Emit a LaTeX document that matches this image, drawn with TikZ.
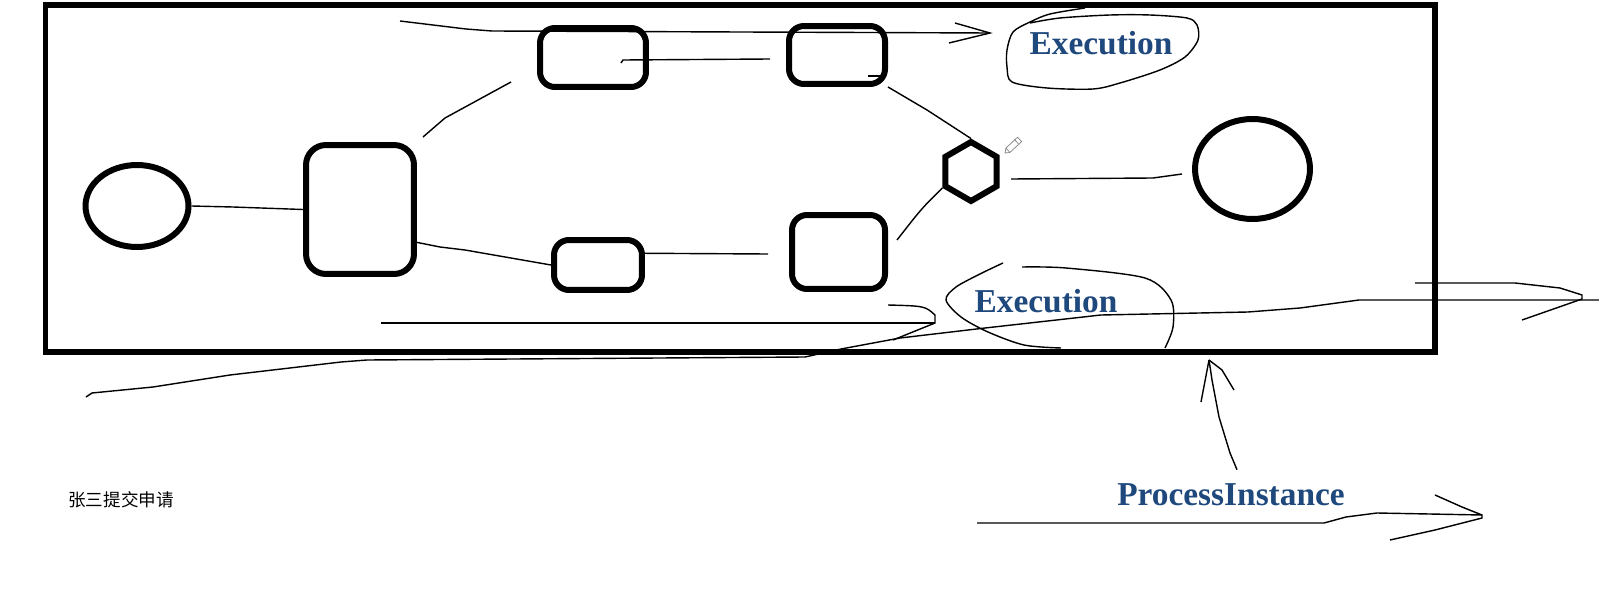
\documentclass[tikz,border=0pt]{standalone}
\usepackage{fontspec}
\setmainfont{Liberation Serif}
\newfontfamily\cjk{Noto Sans CJK SC}
\usepackage{tikz}
\usetikzlibrary{shapes.geometric}

\definecolor{inkblue}{RGB}{31,73,125}

\tikzset{
  frame/.style={line width=0.12cm},
  event/.style={draw,ellipse,line width=0.12cm,inner sep=0pt},
  task/.style={draw,rounded corners=0.3cm,line width=0.12cm,inner sep=0pt},
  gate/.style={draw,regular polygon,regular polygon sides=6,regular polygon rotate=30,
    line width=0.12cm,inner sep=0pt,minimum size=1.18cm},
  stroke/.style={line width=0.8pt},
  note/.style={font=\fontsize{19}{19}\selectfont\bfseries,text=inkblue}
}

\begin{document}
\begin{tikzpicture}[x=0.02cm,y=-0.02cm]
      \useasboundingbox (0,0) rectangle (1599,598);
      \draw[frame] (45.5,5) rectangle (1435,351.5);

      % process nodes
      \node[event,minimum width=2.06cm,minimum height=1.64cm] (start) at (137,206) {};
      \node[task,minimum width=2.16cm,minimum height=2.58cm,rounded corners=0.4cm] (apply) at (360,209.5) {};
      \node[task,minimum width=2.12cm,minimum height=1.18cm] (topA) at (593,57.5) {};
      \node[task,minimum width=1.92cm,minimum height=1.16cm] (topB) at (837,55) {};
      \node[task,minimum width=1.76cm,minimum height=1.0cm] (botA) at (598,265) {};
      \node[task,minimum width=1.86cm,minimum height=1.48cm] (botB) at (838.5,252) {};
      \node[gate] (join) at (971,171.5) {};
      \node[event,minimum width=2.3cm,minimum height=2.0cm] (end) at (1252.5,169) {};

      % pencil cursor
      \draw[gray,line width=0.4pt] (1005,153) -- (1009.9,152.5) -- (1021.6,141.6) -- (1017.6,137.2) -- (1005.9,148.1) -- cycle;
      \draw[gray,line width=0.4pt] (1018.4,143.8) -- (1014.4,139.4);
      \draw[gray,line width=0.4pt] (1009.9,152.5) -- (1005.9,148.1);

      % sequence flows
      \coordinate (a1) at (233,207);
      \draw[stroke] (start.east) -- (a1) -- (apply.west);

      \coordinate (b0) at (423,137);
      \coordinate (b1) at (511,82);
      \draw[stroke] (b0) -- (445,118) -- (b1);

      \coordinate (c0) at (623,60);
      \coordinate (c1) at (770,59);
      \draw[stroke] (621,63) -- (c0) -- (c1);

      \coordinate (d0) at (868,76);
      \draw[stroke] (d0) -- (886,76);
      \draw[stroke] (topB.south east) -- (927,110) -- (join.north);

      \coordinate (e1) at (897,240);
      \draw[stroke] (join.210) .. controls (922,208) .. (e1);

      \coordinate (f0) at (1011,179);
      \coordinate (f1) at (1182,174);
      \draw[stroke] (f0) -- (1153,178) -- (f1);

      \draw[stroke] (apply.-30) -- (440,247) -- (465,250) -- (botA.west);

      \coordinate (g1) at (768,254);
      \draw[stroke] (botA.14) -- (g1);

      % execution on the upper branch
      \draw[stroke] (400,21) -- (466,29) -- (492,31) -- (990,33);
      \draw[stroke] (955,23) -- (990,33) -- (949,43);
      \draw[stroke] plot[smooth] coordinates {(1085,8) (1050,14) (1030,22) (1013,32) (1007,50) (1007,67)
        (1012,82) (1047,88) (1093,89) (1120,83) (1160,70) (1185,57) (1198,40) (1197,25) (1187,18)
        (1150,15) (1110,15) (1060,18) (1030,23)};
      \node[note] (execA) at (1101,43) {Execution};

      % execution on the lower branch
      \draw[stroke] (381,323) -- (935,323);
      \draw[stroke] (888,305) .. controls (925,306) .. (935,315) -- (935,323) -- (893,340);
      \draw[stroke] plot[smooth] coordinates {(1003,263) (982,273) (956,287) (946,300) (961,317)
        (988,332) (1024,345) (1061,348)};
      \draw[stroke] plot[smooth] coordinates {(1022,267) (1066,268) (1145,278) (1171,300)
        (1173,327) (1165,348)};
      \node[note] (execB) at (1046,301) {Execution};

      % process instance
      \draw[stroke] (86,397) -- (92,393) -- (153,387) -- (230,375) -- (341,362) -- (367,360)
        -- (805,357) -- (841,349) -- (900,338) -- (985,328) -- (1101,315) -- (1248,312)
        -- (1300,308) -- (1359,300) -- (1599,300);
      \draw[stroke] (1415,283) -- (1515,283) -- (1560,288) -- (1582,295) -- (1582,299) -- (1522,320);

      \node[note] (inst) at (1231,495) {ProcessInstance};
      \coordinate (h1) at (1209,360);
      \draw[stroke] (inst.north) ++(6,-8) -- (1230,453) -- (1219,417) -- (1212,380) -- (h1);
      \draw[stroke] (h1) -- (1201,402);
      \draw[stroke] (h1) -- (1222,370) -- (1234,390);

      \draw[stroke] (977,523) -- (1324,523) -- (1346,517) -- (1377,513) -- (1482,515);
      \draw[stroke] (1435,495) -- (1462,507) -- (1482,515) -- (1482,518) -- (1435,530) -- (1390,540);

      \node[font=\cjk\fontsize{10}{10}\selectfont] (who) at (121,500) {张三提交申请};

\end{tikzpicture}
\end{document}
